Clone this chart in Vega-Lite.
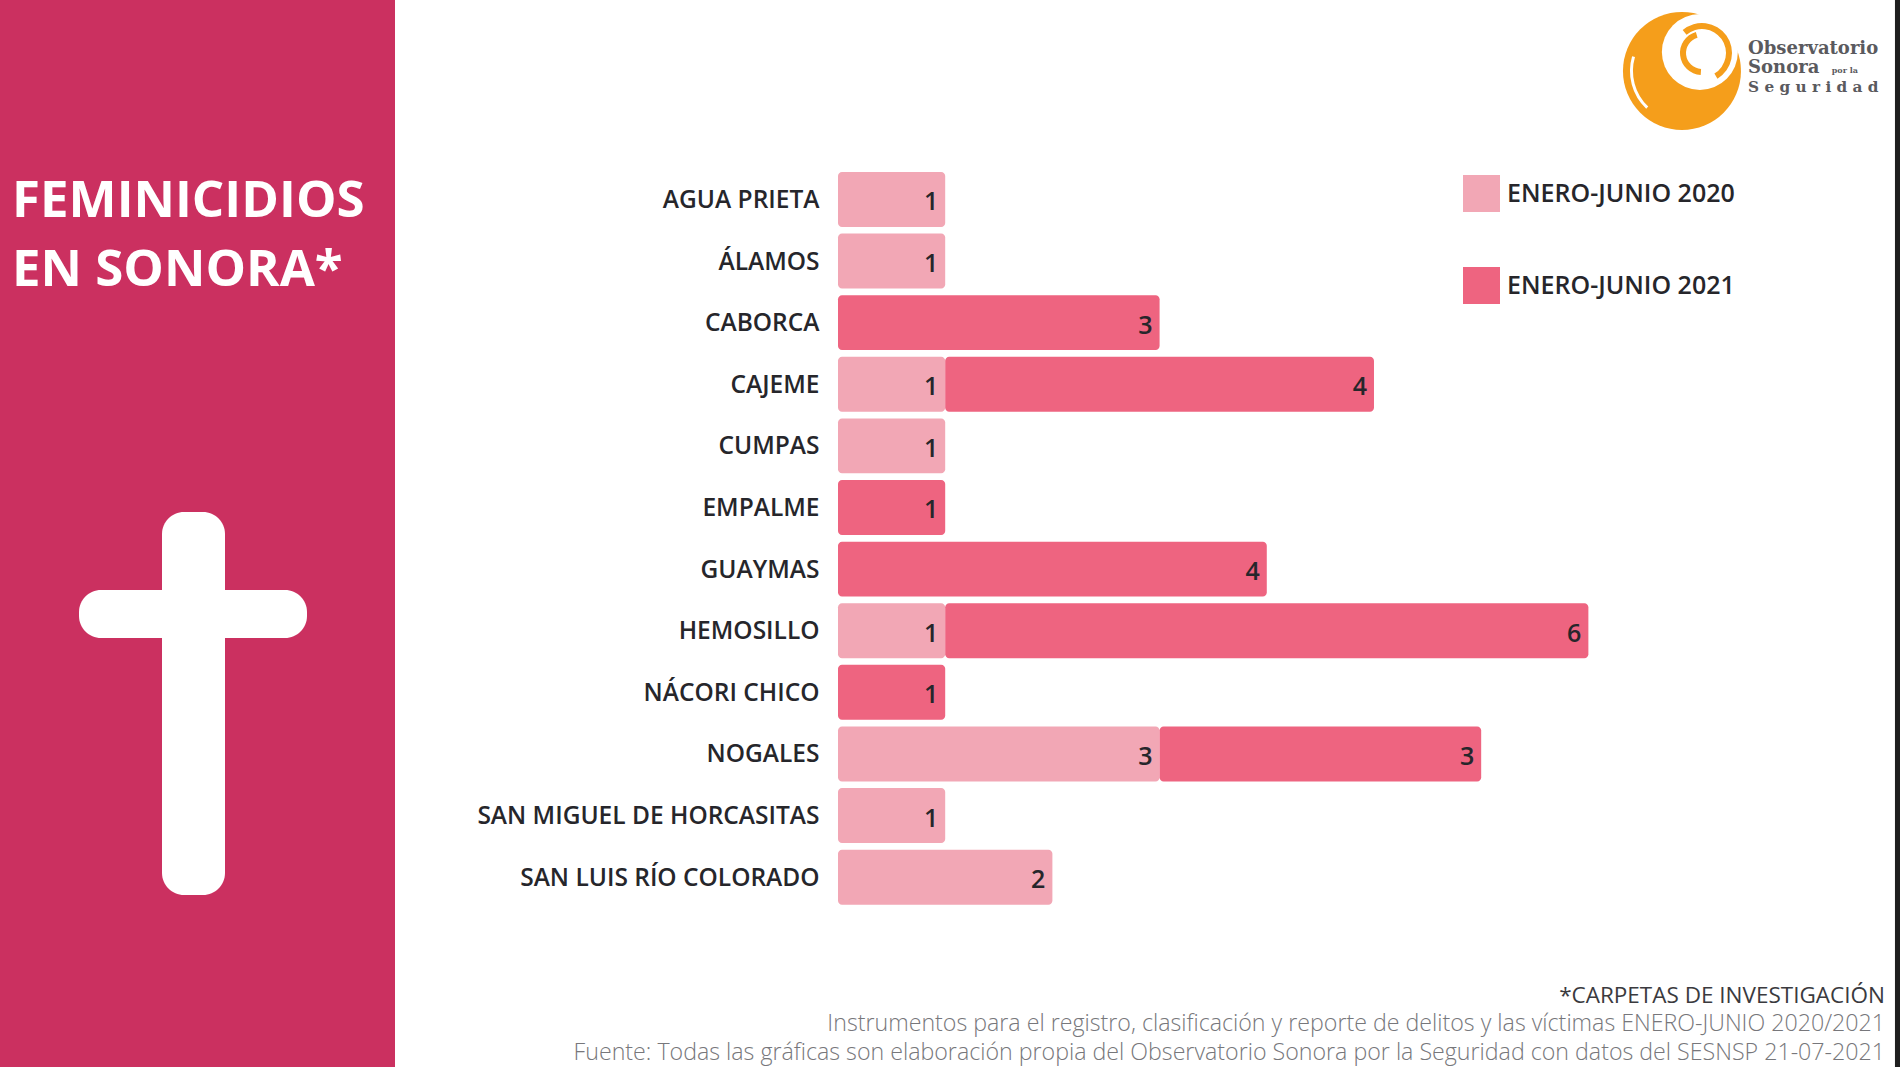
{"$schema":"https://vega.github.io/schema/vega-lite/v6.json","padding":0,"spacing":0,"background":"#ffffff","config":{"view":{"stroke":null},"font":"Open Sans"},"hconcat":[{"width":395,"height":1067,"view":{"fill":"#CB3060","stroke":null},"layer":[{"data":{"values":[{"part":"brazo","a":79,"b":307,"c":590,"d":638},{"part":"palo","a":162,"b":225,"c":512,"d":895}]},"mark":{"type":"rect","fill":"#ffffff","cornerRadius":22},"encoding":{"x":{"field":"a","type":"quantitative","scale":{"domain":[0,395],"nice":false},"axis":null},"x2":{"field":"b"},"y":{"field":"c","type":"quantitative","scale":{"domain":[0,1067],"reverse":true,"nice":false},"axis":null},"y2":{"field":"d"}}},{"data":{"values":[{"t":"FEMINICIDIOS","a":12,"c":217},{"t":"EN SONORA*","a":12,"c":286}]},"mark":{"type":"text","align":"left","baseline":"alphabetic","fontSize":51,"fontWeight":700,"font":"Open Sans","fill":"#ffffff"},"encoding":{"x":{"field":"a","type":"quantitative","scale":{"domain":[0,395],"nice":false},"axis":null},"y":{"field":"c","type":"quantitative","scale":{"domain":[0,1067],"reverse":true,"nice":false},"axis":null},"text":{"field":"t"}}}]},{"width":1062,"height":1067,"resolve":{"scale":{"y":"independent"}},"layer":[{"data":{"values":[{"municipio":"AGUA PRIETA","periodo":"ENERO-JUNIO 2020","n":1},{"municipio":"ÁLAMOS","periodo":"ENERO-JUNIO 2020","n":1},{"municipio":"CABORCA","periodo":"ENERO-JUNIO 2021","n":3},{"municipio":"CAJEME","periodo":"ENERO-JUNIO 2020","n":1},{"municipio":"CAJEME","periodo":"ENERO-JUNIO 2021","n":4},{"municipio":"CUMPAS","periodo":"ENERO-JUNIO 2020","n":1},{"municipio":"EMPALME","periodo":"ENERO-JUNIO 2021","n":1},{"municipio":"GUAYMAS","periodo":"ENERO-JUNIO 2021","n":4},{"municipio":"HEMOSILLO","periodo":"ENERO-JUNIO 2020","n":1},{"municipio":"HEMOSILLO","periodo":"ENERO-JUNIO 2021","n":6},{"municipio":"NÁCORI CHICO","periodo":"ENERO-JUNIO 2021","n":1},{"municipio":"NOGALES","periodo":"ENERO-JUNIO 2020","n":3},{"municipio":"NOGALES","periodo":"ENERO-JUNIO 2021","n":3},{"municipio":"SAN MIGUEL DE HORCASITAS","periodo":"ENERO-JUNIO 2020","n":1},{"municipio":"SAN LUIS RÍO COLORADO","periodo":"ENERO-JUNIO 2020","n":2}]},"transform":[{"stack":"n","groupby":["municipio"],"sort":[{"field":"periodo","order":"ascending"}],"as":["x0","x1"]}],"encoding":{"y":{"field":"municipio","type":"nominal","title":null,"sort":null,"scale":{"domain":["AGUA PRIETA","ÁLAMOS","CABORCA","CAJEME","CUMPAS","EMPALME","GUAYMAS","HEMOSILLO","NÁCORI CHICO","NOGALES","SAN MIGUEL DE HORCASITAS","SAN LUIS RÍO COLORADO"],"range":[168.6,908],"paddingInner":0.108,"paddingOuter":0.054},"axis":{"domain":false,"ticks":false,"grid":false,"labelFontSize":24.5,"labelFontWeight":600,"labelFont":"Open Sans","labelColor":"#26262b","labelPadding":19,"labelOffset":1.5,"labelLimit":430,"minExtent":443,"maxExtent":443}}},"layer":[{"mark":{"type":"bar","cornerRadius":4},"encoding":{"x":{"field":"x0","type":"quantitative","scale":{"domain":[0,9.907],"nice":false,"zero":false},"axis":null},"x2":{"field":"x1"},"color":{"field":"periodo","type":"nominal","scale":{"domain":["ENERO-JUNIO 2020","ENERO-JUNIO 2021"],"range":["#F2A7B5","#EE6480"]},"legend":{"orient":"none","legendX":1463,"legendY":175,"title":null,"symbolType":"square","symbolSize":1369,"symbolStrokeWidth":0,"symbolOpacity":1,"labelFontSize":25,"labelFontWeight":600,"labelFont":"Open Sans","labelColor":"#26262b","labelOffset":7,"labelLimit":320,"rowPadding":55}}}},{"mark":{"type":"text","align":"right","dx":-7,"dy":3,"fontSize":25,"fontWeight":600,"font":"Open Sans","fill":"#26262b"},"encoding":{"x":{"field":"x1","type":"quantitative","scale":{"domain":[0,9.907],"nice":false,"zero":false},"axis":null},"text":{"field":"n","type":"quantitative"}}}]},{"encoding":{"x":{"field":"px","type":"quantitative","scale":{"domain":[0,9.907],"nice":false,"zero":false},"axis":null},"y":{"field":"py","type":"quantitative","scale":{"domain":[0,1067],"reverse":true,"nice":false,"zero":false},"axis":null}},"layer":[{"data":{"values":[{"px":9.86,"px2":9.907,"py":0,"py2":1067}]},"mark":{"type":"rect","fill":"#1f1f1f"},"encoding":{"x2":{"field":"px2"},"y2":{"field":"py2"}}},{"data":{"values":[{"px":7.873,"py":71}]},"mark":{"type":"arc","radius":59,"radius2":0,"theta":0,"theta2":6.2832,"fill":"#F59E1B"}},{"data":{"values":[{"px":7.873,"py":71}]},"mark":{"type":"arc","radius":52,"radius2":49,"theta":3.9,"theta2":5.0,"fill":"#ffffff"}},{"data":{"values":[{"px":8.04,"py":52}]},"mark":{"type":"arc","radius":38,"radius2":0,"theta":0,"theta2":6.2832,"fill":"#ffffff"}},{"data":{"values":[{"px":8.06,"py":53}]},"mark":{"type":"arc","radius":30,"radius2":24,"theta":-0.7,"theta2":2.6,"fill":"#F59E1B"}},{"data":{"values":[{"px":8.06,"py":53}]},"mark":{"type":"arc","radius":22,"radius2":16,"theta":3.2,"theta2":6.0,"fill":"#F59E1B"}},{"data":{"values":[{"t":"Observatorio","px":8.49,"py":54},{"t":"Sonora","px":8.49,"py":73}]},"mark":{"type":"text","align":"left","baseline":"alphabetic","font":"DejaVu Serif","fontWeight":"bold","fontSize":18,"fill":"#5a5a5e"},"encoding":{"text":{"field":"t"}}},{"data":{"values":[{"t":"S e g u r i d a d","px":8.49,"py":92}]},"mark":{"type":"text","align":"left","baseline":"alphabetic","font":"DejaVu Serif","fontWeight":"bold","fontSize":15.3,"fill":"#5a5a5e"},"encoding":{"text":{"field":"t"}}},{"data":{"values":[{"t":"por la","px":9.27,"py":73}]},"mark":{"type":"text","align":"left","baseline":"alphabetic","font":"DejaVu Serif","fontWeight":"bold","fontSize":8,"fill":"#5a5a5e"},"encoding":{"text":{"field":"t"}}},{"data":{"values":[{"t":"*CARPETAS DE INVESTIGACIÓN","px":9.767,"py":1003}]},"mark":{"type":"text","align":"right","baseline":"alphabetic","font":"Open Sans","fontWeight":400,"fontSize":22.5,"fill":"#3a3a3e"},"encoding":{"text":{"field":"t"}}},{"data":{"values":[{"t":"Instrumentos para el registro, clasificación y reporte de delitos y las víctimas ENERO-JUNIO  2020/2021","px":9.767,"py":1031},{"t":"Fuente: Todas las gráficas son elaboración propia del Observatorio Sonora por la Seguridad con datos del SESNSP 21-07-2021","px":9.767,"py":1060}]},"mark":{"type":"text","align":"right","baseline":"alphabetic","font":"Open Sans","fontWeight":300,"fontSize":23.2,"fill":"#77777b"},"encoding":{"text":{"field":"t"}}}]}]}]}
